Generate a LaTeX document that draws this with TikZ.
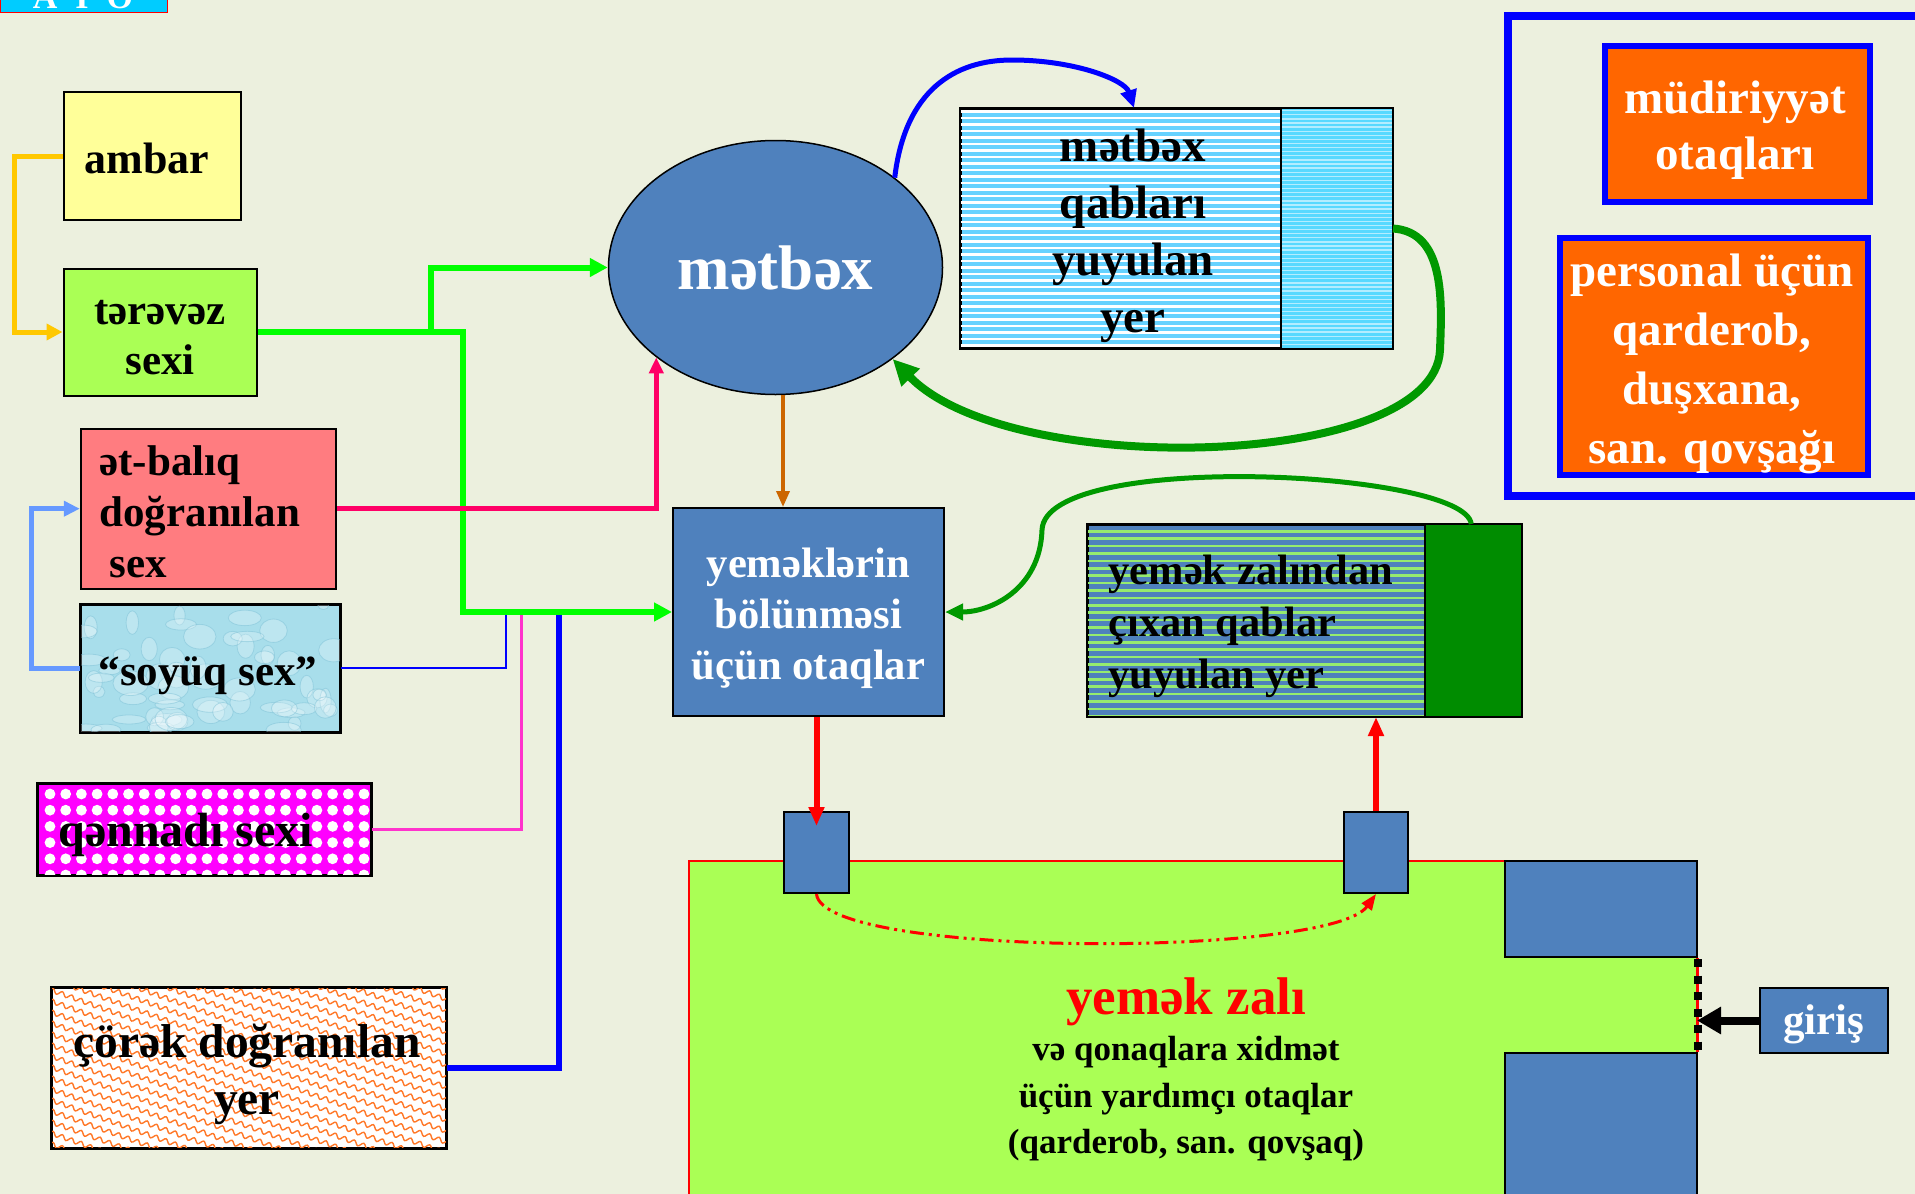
\documentclass[tikz,border=0pt]{standalone}
\usepackage{fontspec}
\setmainfont{Liberation Serif}
\usetikzlibrary{arrows.meta,decorations.pathmorphing,shapes.geometric}

\definecolor{bg}{RGB}{236,240,222}
\definecolor{steel}{RGB}{79,129,189}
\definecolor{lyellow}{RGB}{255,255,153}
\definecolor{lgreen}{RGB}{170,255,85}
\definecolor{salmon}{RGB}{255,124,128}
\definecolor{iceblue}{RGB}{168,222,235}
\definecolor{icedark}{RGB}{120,190,212}
\definecolor{orng}{RGB}{255,102,0}
\definecolor{gold}{RGB}{255,200,0}
\definecolor{lime}{RGB}{0,255,0}
\definecolor{rosered}{RGB}{255,0,102}
\definecolor{pinkm}{RGB}{255,51,204}
\definecolor{pureblue}{RGB}{0,0,255}
\definecolor{cornflower}{RGB}{102,153,255}
\definecolor{rust}{RGB}{204,102,0}
\definecolor{dgreen}{RGB}{0,153,0}
\definecolor{skyb}{RGB}{102,210,255}
\definecolor{stripeg}{RGB}{150,235,110}
\definecolor{darkgr}{RGB}{0,140,0}
\definecolor{cyanbar}{RGB}{0,204,255}
\definecolor{wave}{RGB}{255,120,40}
\definecolor{magfill}{RGB}{255,0,255}

\newcommand{\tsz}[2]{\fontsize{#1}{#2}\selectfont\bfseries}

\tikzset{
  box/.style={draw=black, line width=2pt, inner sep=0pt, rectangle},
  frame/.style={draw=black, line width=2pt},
  tip/.style 2 args={-{Triangle[length=#1pt,width=#2pt]}},
}

\begin{document}
\begin{tikzpicture}[x=1pt,y=-1pt]
\useasboundingbox (0,0) rectangle (1915,1194);
\clip (0,0) rectangle (1915,1194);
\fill[bg] (0,0) rectangle (1915,1194);

% heading strip at the top edge
\node[fill=cyanbar, draw=red, line width=1pt, anchor=south west, minimum width=167pt, minimum height=30pt, inner sep=0pt] (title) at (0,13) {};
\begin{scope}
  \clip (0,0) rectangle (166,12.5);
  \node[text=white, font=\tsz{34}{36}, anchor=base] (title-t) at (83,8) {A\hspace{18pt}I\hspace{18pt}O};
\end{scope}

% ---------- left column ----------
\node[box, fill=lyellow, minimum width=177pt, minimum height=128pt] (ambar) at (152,156) {};
\node[anchor=west, font=\tsz{44}{50}] (ambar-t) at (81,158) {ambar};

\node[box, fill=lgreen, minimum width=193pt, minimum height=127pt] (terevez) at (160,332) {};
\node[align=center, font=\tsz{43}{50}] (terevez-t) at (160,338) {tərəvəz\\sexi};

\node[box, fill=salmon, minimum width=255pt, minimum height=160pt] (etbaliq) at (208.3,508.7) {};
\node[anchor=west, align=left, font=\tsz{43}{51}] (etbaliq-t) at (96,512) {ət-balıq\\doğranılan\\\hspace{10pt}sex};

\node[box, fill=iceblue, minimum width=259pt, minimum height=127pt] (soyuq) at (210,668) {};
\begin{scope}
  \clip (soyuq.north west) rectangle (soyuq.south east);
  \pgfmathsetseed{12}
  \foreach \i in {1,...,60}{
    \pgfmathsetmacro{\cx}{80+260*rnd}
    \pgfmathsetmacro{\cy}{604+128*rnd}
    \pgfmathsetmacro{\ra}{5+13*rnd}
    \pgfmathsetmacro{\rb}{4+9*rnd}
    \fill[white, opacity=0.25] (\cx,\cy) ellipse [x radius=\ra pt, y radius=\rb pt];
    \draw[icedark, opacity=0.45, line width=0.8pt] (\cx,\cy) ellipse [x radius=\ra pt, y radius=\rb pt];
  }
\end{scope}
\draw[frame] (soyuq.north west) rectangle (soyuq.south east);
\node[font=\tsz{43}{48}] (soyuq-t) at (208,676) {“soyüq sex”};

\node[box, fill=magfill, minimum width=333pt, minimum height=91pt] (qennadi) at (204.5,829.5) {};
\begin{scope}
  \clip (qennadi.north west) rectangle (qennadi.south east);
  \foreach \r in {0,...,5}{
    \foreach \c in {0,...,21}{
      \fill[white] ({50+\c*15.7},{794+\r*16.2}) circle (5.4pt);
    }
  }
\end{scope}
\draw[frame] (qennadi.north west) rectangle (qennadi.south east);
\node[anchor=west, font=\tsz{48}{52}] (qennadi-t) at (55,835) {qənnadı sexi};

\node[box, fill=white, minimum width=393.5pt, minimum height=160pt] (corek) at (249.2,1068) {};
\begin{scope}
  \clip (corek.north west) rectangle (corek.south east);
  \foreach \k in {0,...,30}{
    \draw[wave, line width=1.4pt, decorate, decoration={snake, amplitude=2.2pt, segment length=10pt}]
      (40,{832+\k*11}) -- (460,{982+\k*11});
  }
\end{scope}
\draw[frame] (corek.north west) rectangle (corek.south east);
\node[align=center, font=\tsz{47.5}{57}] (corek-t) at (247,1074) {çörək doğranılan\\yer};

% ---------- kitchen ----------
\node[ellipse, draw=black, line width=1.5pt, fill=steel, minimum width=334pt, minimum height=254pt, inner sep=0pt, text=white, font=\tsz{63}{70}] (metbex) at (775.5,267.5) {mətbəx};

\node[box, fill=skyb, minimum width=431pt, minimum height=239pt] (qablar) at (1176.5,228.5) {};
\begin{scope}
  \clip (qablar.north west) rectangle (qablar.south east);
  \foreach \k in {0,...,37}{
    \fill[white] (961,{110+\k*6.5}) rectangle (1280,{112.8+\k*6.5});
  }
  \fill[skyb!85!cyan] (1280,109) rectangle (1392,348);
  \foreach \k in {0,...,58}{
    \fill[white, opacity=0.55] (1280,{110+\k*4.1}) rectangle (1392,{111.3+\k*4.1});
  }
\end{scope}
\draw[frame] (qablar.north west) rectangle (qablar.south east);
\draw[frame] ([xshift=-112pt]qablar.north east) -- ([xshift=-112pt]qablar.south east);
\node[align=center, font=\tsz{47}{57}] (qablar-t) at (1133,236) {mətbəx\\qabları\\yuyulan\\yer};

\node[box, fill=steel, minimum width=271pt, minimum height=208pt] (bolgu) at (808.5,612) {};
\node[text=white, align=center, font=\tsz{42.6}{51}] (bolgu-t) at (808.5,618) {yeməklərin\\bölünməsi\\üçün otaqlar};

\node[box, fill=steel, minimum width=432.5pt, minimum height=191pt] (zalindan) at (1304.25,620.5) {};
\begin{scope}
  \clip (zalindan.north west) rectangle (zalindan.south east);
  \foreach \k in {0,...,26}{
    \fill[stripeg] (1088,{530+\k*7.4}) rectangle (1424,{532.5+\k*7.4});
  }
  \fill[darkgr] (1424,525) rectangle (1521,716);
\end{scope}
\draw[frame] (zalindan.north west) rectangle (zalindan.south east);
\draw[frame] ([xshift=-96.5pt]zalindan.north east) -- ([xshift=-96.5pt]zalindan.south east);
\node[anchor=west, align=left, font=\tsz{42.5}{52}] (zalindan-t) at (1105,626) {yemək zalından\\çıxan qablar\\yuyulan yer};

% ---------- dining hall ----------
\node[draw=red, line width=1.5pt, fill=lgreen, minimum width=1008pt, minimum height=360pt, inner sep=0pt, anchor=north west] (zal) at (688,860) {};
\node[box, fill=steel, anchor=north west, minimum width=192pt, minimum height=96pt] (blkA) at (1504,860) {};
\node[box, fill=steel, anchor=north west, minimum width=192pt, minimum height=170pt] (blkB) at (1504,1052) {};
\draw[red, line width=1.5pt] (blkA.south east) -- (blkB.north east);
\draw[black, line width=8pt, dash pattern=on 8pt off 8.5pt] ([yshift=-1pt]blkA.south east) -- (blkB.north east);

\node[box, fill=steel, minimum width=65pt, minimum height=81pt] (lsmall) at (816.5,852.5) {};
\node[box, fill=steel, minimum width=64pt, minimum height=81pt] (rsmall) at (1376,852.5) {};

\node[text=red, font=\tsz{53}{60}] (zal-t) at (1186,1002) {yemək zalı};
\node[align=center, font=\tsz{35}{46.5}] (zal-s) at (1186,1099) {və qonaqlara xidmət\\üçün yardımçı otaqlar\\(qarderob, san. qovşaq)};

\node[box, fill=steel, minimum width=128pt, minimum height=65pt] (giris) at (1824,1020.5) {};
\node[text=white, font=\tsz{43}{48}] (giris-t) at (1824,1024) {giriş};
\coordinate (door) at (1697,1020.5);

% ---------- administration block ----------
\node[draw=pureblue, line width=8pt, minimum width=460pt, minimum height=480pt, inner sep=0pt, anchor=north west] (admin) at (1504,12) {};
\node[draw=pureblue, line width=6pt, fill=orng, minimum width=265pt, minimum height=156pt, inner sep=0pt] (mudir) at (1737.5,124) {};
\node[text=white, align=center, font=\tsz{47}{56}] (mudir-t) at (1735,130) {müdiriyyət\\otaqları};
\node[draw=pureblue, line width=6pt, fill=orng, minimum width=308pt, minimum height=237pt, inner sep=0pt] (personal) at (1714,356.5) {};
\node[text=white, align=center, font=\tsz{47}{59}] (personal-t) at (1712,364) {personal üçün\\qarderob,\\duşxana,\\san. qovşağı};

% ---------- connectors ----------
\coordinate (gsplit) at (431,332);
\coordinate (gdown) at (463,332);
\coordinate (jb) at (506,612);
\coordinate (jm) at (521.5,612);
\coordinate (jt) at (559,612);

\draw[gold, line width=5pt, tip={16}{16}] (ambar.west) -- ++(-48,0) |- (terevez.west);
\draw[cornflower, line width=5pt, tip={16}{15}] (soyuq.west) -- ++(-48,0) |- (etbaliq.west);

\draw[pureblue, line width=2.5pt] (soyuq.east) -| (jb);
\draw[pinkm, line width=3.5pt] (qennadi.east) -| (jm);
\draw[pureblue, line width=6pt] (corek.east) -| (jt);

\draw[lime, line width=6pt, tip={18}{18}] (terevez.east) -- (gsplit) |- (metbex.west);
\draw[lime, line width=6pt, tip={18}{18}] (gsplit) -- (gdown) |- (bolgu.west);

\draw[rosered, line width=4.5pt, tip={16}{14}] (etbaliq.east) -| (metbex.217);

\draw[rust, line width=3.5pt, tip={16}{13}] ([xshift=7.5pt]metbex.south) -- ([xshift=-25.5pt]bolgu.north);

\draw[pureblue, line width=5pt, tip={18}{16}] (metbex.37) .. controls (905,90) and (955,60) .. (1012,60) .. controls (1075,60) and (1125,80) .. ([xshift=-42.5pt]qablar.north);

\draw[dgreen, line width=8pt, tip={26}{24}] (qablar.east) .. controls (1445,232) and (1442,300) .. (1440,350) .. controls (1435,470) and (1010,480) .. (metbex.-38);

\draw[dgreen, line width=5pt, tip={18}{16}] ([xshift=167pt]zalindan.north) .. controls (1465,470) and (1045,450) .. (1042,530) .. controls (1040,590) and (990,612) .. (bolgu.east);

\draw[red, line width=6pt, tip={19}{15}] (bolgu.south -| lsmall.north) -- ([yshift=-15pt]lsmall.north);
\draw[red, line width=6pt, tip={19}{15}] (rsmall.north) -- (rsmall.north |- zalindan.south);

\draw[red, line width=3pt, dash pattern=on 14pt off 5pt on 3pt off 5pt on 3pt off 5pt, tip={16}{12}] (lsmall.south) .. controls (822,958) and (1330,958) .. (rsmall.south);

\draw[black, line width=8pt, tip={24}{26}] (giris.west) -- (door);
\end{tikzpicture}
\end{document}
